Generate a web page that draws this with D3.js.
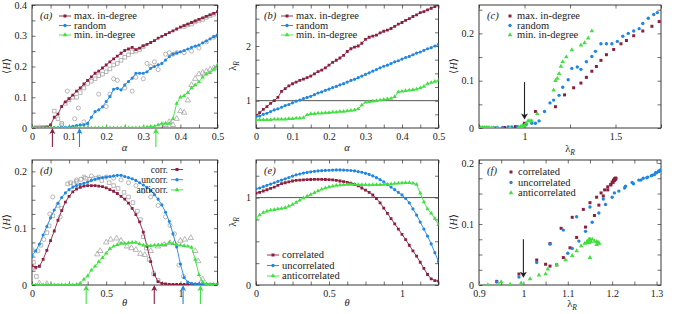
<!DOCTYPE html>
<html>
<head>
<meta charset="utf-8">
<script src="https://cdn.jsdelivr.net/npm/d3@7"></script>
<style>
body { margin: 0; background: #fff; }
svg, svg text { font-family: "Liberation Serif", "DejaVu Serif", "Times New Roman", serif !important; }
svg text { font-size: 10px; fill: #222; }
svg text.leg { font-size: 10.5px; }
svg text.legd { font-size: 9.5px; }
</style>
</head>
<body>
<div id="main-container"></div>
<script>

// ---------------- data ----------------

var alpha = [0, 0.01, 0.02, 0.03, 0.04, 0.05, 0.06, 0.07, 0.08, 0.09,
	0.1, 0.11, 0.12, 0.13, 0.14, 0.15, 0.16, 0.17, 0.18, 0.19,
	0.2, 0.21, 0.22, 0.23, 0.24, 0.25, 0.26, 0.27, 0.28, 0.29,
	0.3, 0.31, 0.32, 0.33, 0.34, 0.35, 0.36, 0.37, 0.38, 0.39,
	0.4, 0.41, 0.42, 0.43, 0.44, 0.45, 0.46, 0.47, 0.48, 0.49, 0.5];

// panel (a) : <H> vs alpha
var hMaxIn = [0, 0, 0, 0.001, 0.003, 0.01, 0.035, 0.045, 0.07, 0.085,
	0.095, 0.107, 0.12, 0.13, 0.143, 0.155, 0.166, 0.178, 0.185, 0.195,
	0.205, 0.215, 0.225, 0.234, 0.243, 0.252, 0.257, 0.262, 0.255, 0.26,
	0.267, 0.272, 0.278, 0.284, 0.292, 0.298, 0.304, 0.31, 0.316, 0.322,
	0.328, 0.333, 0.338, 0.343, 0.348, 0.353, 0.358, 0.363, 0.368, 0.373, 0.378];
var hRandom = [0, 0, 0, 0, 0, 0, 0.001, 0.001, 0.002, 0.002,
	0.003, 0.005, 0.008, 0.01, 0.01, 0.015, 0.035, 0.053, 0.059, 0.069,
	0.086, 0.102, 0.126, 0.129, 0.124, 0.14, 0.151, 0.162, 0.178, 0.178,
	0.178, 0.183, 0.194, 0.2, 0.205, 0.21, 0.221, 0.232, 0.24, 0.244,
	0.248, 0.252, 0.257, 0.262, 0.266, 0.27, 0.277, 0.283, 0.29, 0.297, 0.303];
var hMinIn = [0, 0, 0, 0, 0, 0, 0, 0, 0, 0,
	0, 0, 0, 0, 0, 0, 0, 0, 0, 0,
	0, 0, 0, 0, 0, 0, 0, 0, 0, 0.001,
	0.002, 0.003, 0.005, 0.005, 0.01, 0.015, 0.015, 0.015, 0.03, 0.08,
	0.1, 0.105, 0.115, 0.13, 0.14, 0.15, 0.165, 0.175, 0.18, 0.19, 0.205];

// simulations (grey open symbols) in (a)
var simMaxIn = [[0.01, 0.001], [0.03, 0.002], [0.06, 0.055], [0.07, 0.03], [0.08, 0.015], [0.09, 0.08],
	[0.1, 0.092], [0.11, 0.1], [0.12, 0.1], [0.13, 0.115], [0.14, 0.13], [0.15, 0.145], [0.16, 0.152],
	[0.17, 0.16], [0.18, 0.17], [0.19, 0.175], [0.2, 0.183], [0.21, 0.192], [0.22, 0.205], [0.23, 0.21],
	[0.24, 0.22], [0.25, 0.23], [0.26, 0.238], [0.27, 0.248], [0.28, 0.25], [0.29, 0.255], [0.3, 0.265],
	[0.41, 0.33], [0.42, 0.335], [0.43, 0.338], [0.44, 0.345], [0.45, 0.35], [0.46, 0.353], [0.47, 0.36],
	[0.48, 0.365], [0.49, 0.37]];
var simRandom = [[0.02, 0.003], [0.04, 0.002], [0.08, 0.01], [0.095, 0.12], [0.115, 0.03], [0.125, 0.065],
	[0.14, 0.02], [0.18, 0.11], [0.2, 0.07], [0.21, 0.11], [0.22, 0.16], [0.23, 0.155], [0.25, 0.13],
	[0.27, 0.12], [0.28, 0.165], [0.3, 0.16], [0.31, 0.21], [0.32, 0.2], [0.33, 0.215], [0.34, 0.19],
	[0.36, 0.24], [0.37, 0.245], [0.38, 0.24], [0.39, 0.245], [0.41, 0.245], [0.43, 0.25], [0.45, 0.26],
	[0.47, 0.28], [0.49, 0.295], [0.5, 0.3]];
var simMinIn = [[0.36, 0.01], [0.37, 0.02], [0.38, 0.01], [0.39, 0.03], [0.4, 0.055], [0.41, 0.05],
	[0.42, 0.09], [0.43, 0.14], [0.44, 0.16], [0.45, 0.175], [0.46, 0.18], [0.47, 0.185], [0.48, 0.19],
	[0.49, 0.195], [0.5, 0.2]];
var arrowsA = [0.055, 0.128, 0.334];

// panel (b) : lambda_R vs alpha
var lamMaxIn = [0.73, 0.78, 0.84, 0.89, 0.95, 1.0, 1.06, 1.17, 1.22, 1.27,
	1.31, 1.34, 1.37, 1.395, 1.42, 1.45, 1.49, 1.53, 1.56, 1.6,
	1.65, 1.7, 1.74, 1.78, 1.83, 1.9, 1.95, 1.98, 2.0, 2.05,
	2.12, 2.16, 2.18, 2.2, 2.24, 2.27, 2.29, 2.32, 2.36, 2.4,
	2.43, 2.47, 2.5, 2.54, 2.57, 2.61, 2.63, 2.66, 2.69, 2.72, 2.75];
var lamRandom = [0.7, 0.72, 0.75, 0.77, 0.8, 0.83, 0.85, 0.88, 0.91, 0.93,
	0.96, 0.99, 1.01, 1.04, 1.06, 1.08, 1.11, 1.14, 1.16, 1.19,
	1.21, 1.24, 1.26, 1.29, 1.31, 1.34, 1.37, 1.39, 1.42, 1.45,
	1.48, 1.51, 1.54, 1.57, 1.6, 1.63, 1.65, 1.68, 1.71, 1.73,
	1.76, 1.79, 1.81, 1.84, 1.87, 1.89, 1.92, 1.95, 1.97, 2.0, 2.03];
var lamMinIn = [0.65, 0.65, 0.65, 0.65, 0.65, 0.66, 0.66, 0.66, 0.66, 0.67,
	0.67, 0.68, 0.68, 0.69, 0.74, 0.76, 0.76, 0.77, 0.77, 0.78,
	0.78, 0.79, 0.79, 0.8, 0.8, 0.81, 0.82, 0.83, 0.85, 0.92,
	0.97, 0.98, 0.99, 1.0, 1.01, 1.02, 1.03, 1.04, 1.07, 1.16,
	1.17, 1.18, 1.19, 1.2, 1.21, 1.23, 1.26, 1.31, 1.33, 1.35, 1.37];

var theta = [0, 0.025, 0.05, 0.075, 0.1, 0.125, 0.15, 0.175, 0.2, 0.225,
	0.25, 0.275, 0.3, 0.325, 0.35, 0.375, 0.4, 0.425, 0.45, 0.475,
	0.5, 0.525, 0.55, 0.575, 0.6, 0.625, 0.65, 0.675, 0.7, 0.725,
	0.75, 0.775, 0.8, 0.825, 0.85, 0.875, 0.9, 0.925, 0.95, 0.975,
	1.0, 1.025, 1.05, 1.075, 1.1, 1.125, 1.15, 1.175, 1.2, 1.225, 1.25];

// panel (d) : <H> vs theta
var hCorr = [0.034, 0.031, 0.033, 0.045, 0.061, 0.078, 0.095, 0.114, 0.131, 0.146,
	0.156, 0.164, 0.169, 0.172, 0.174, 0.175, 0.175, 0.175, 0.174, 0.173,
	0.171, 0.168, 0.165, 0.161, 0.156, 0.151, 0.144, 0.135, 0.124, 0.111,
	0.093, 0.068, 0.041, 0.018, 0.006, 0.003, 0.002, 0.001, 0.001, 0.001,
	0.001, 0.001, 0.001, 0.001, 0.001, 0.001, 0.001, 0.001, 0.001, 0.001, 0.001];
var hUncorr = [0.052, 0.06, 0.072, 0.088, 0.103, 0.118, 0.132, 0.144, 0.154, 0.162,
	0.168, 0.172, 0.175, 0.177, 0.179, 0.181, 0.184, 0.186, 0.188, 0.189,
	0.19, 0.191, 0.192, 0.193, 0.193, 0.191, 0.189, 0.187, 0.184, 0.18,
	0.176, 0.172, 0.166, 0.159, 0.151, 0.141, 0.128, 0.112, 0.09, 0.067,
	0.037, 0.013, 0.005, 0.003, 0.002, 0.002, 0.001, 0.001, 0.001, 0.001, 0.001];
var hAnti = [0, 0, 0, 0, 0, 0, 0, 0, 0, 0,
	0, 0, 0.001, 0.003, 0.01, 0.016, 0.026, 0.033, 0.041, 0.048,
	0.056, 0.064, 0.068, 0.071, 0.073, 0.073, 0.074, 0.075, 0.075, 0.072,
	0.07, 0.07, 0.069, 0.07, 0.07, 0.071, 0.071, 0.075, 0.072, 0.071,
	0.07, 0.069, 0.068, 0.066, 0.045, 0.018, 0.005, 0.002, 0.001, 0.001, 0.001];

var simCorr = [[0, 0.062], [0.01, 0.04], [0.03, 0.015], [0.06, 0.07], [0.1, 0.092], [0.115, 0.104],
	[0.14, 0.122], [0.175, 0.14], [0.24, 0.178], [0.26, 0.18], [0.28, 0.178], [0.3, 0.182], [0.33, 0.186],
	[0.36, 0.188], [0.39, 0.186], [0.43, 0.188], [0.47, 0.184], [0.52, 0.18], [0.55, 0.175], [0.58, 0.17],
	[0.62, 0.163], [0.65, 0.155], [0.68, 0.145], [0.71, 0.13], [0.73, 0.115], [0.75, 0.085], [0.77, 0.065],
	[0.79, 0.045], [0.82, 0.02], [0.85, 0.008]];
var simUncorr = [[0.02, 0.03], [0.04, 0.06], [0.08, 0.08], [0.12, 0.125], [0.14, 0.155], [0.19, 0.12],
	[0.2, 0.135], [0.3, 0.185], [0.35, 0.19], [0.4, 0.192], [0.45, 0.19], [0.5, 0.19], [0.55, 0.188],
	[0.6, 0.185], [0.65, 0.18], [0.7, 0.175], [0.75, 0.165], [0.8, 0.155], [0.85, 0.14], [0.9, 0.12],
	[0.93, 0.105], [0.96, 0.09], [0.99, 0.035], [1.02, 0.015]];
var simAnti = [[0.05, 0.003], [0.1, 0.002], [0.44, 0.054], [0.46, 0.06], [0.5, 0.075], [0.53, 0.08],
	[0.57, 0.082], [0.6, 0.078], [0.64, 0.068], [0.67, 0.065], [0.7, 0.062], [0.73, 0.055], [0.76, 0.053],
	[0.8, 0.06], [0.85, 0.068], [0.89, 0.071], [0.93, 0.074], [0.96, 0.074], [1.0, 0.078], [1.03, 0.08],
	[1.07, 0.083], [1.1, 0.06], [1.12, 0.042], [1.15, 0.01]];
var arrowsD = [0.365, 0.824, 1.018, 1.135];

// panel (e) : lambda_R vs theta
var lamCorr = [1.05, 1.06, 1.075, 1.09, 1.105, 1.12, 1.14, 1.16, 1.17, 1.18,
	1.19, 1.197, 1.2, 1.203, 1.205, 1.207, 1.208, 1.208, 1.208, 1.207,
	1.205, 1.202, 1.197, 1.19, 1.183, 1.175, 1.165, 1.15, 1.135, 1.11,
	1.085, 1.06, 1.03, 0.99, 0.94, 0.88, 0.82, 0.76, 0.7, 0.64,
	0.58, 0.52, 0.455, 0.39, 0.33, 0.26, 0.19, 0.12, 0.07, 0.05, 0.045];
var lamUncorr = [1.1, 1.11, 1.125, 1.14, 1.155, 1.17, 1.185, 1.2, 1.215, 1.23,
	1.245, 1.26, 1.27, 1.28, 1.288, 1.295, 1.3, 1.305, 1.308, 1.311,
	1.313, 1.315, 1.316, 1.316, 1.315, 1.313, 1.31, 1.305, 1.298, 1.29,
	1.278, 1.265, 1.248, 1.228, 1.205, 1.18, 1.15, 1.12, 1.09, 1.06,
	1.03, 0.99, 0.94, 0.87, 0.8, 0.72, 0.64, 0.56, 0.47, 0.37, 0.27];
var lamAnti = [0.766, 0.8, 0.83, 0.845, 0.855, 0.86, 0.87, 0.875, 0.885, 0.9,
	0.92, 0.945, 0.97, 0.995, 1.015, 1.035, 1.055, 1.075, 1.095, 1.11,
	1.12, 1.13, 1.138, 1.143, 1.147, 1.15, 1.15, 1.15, 1.148, 1.147,
	1.146, 1.145, 1.146, 1.147, 1.148, 1.15, 1.152, 1.155, 1.16, 1.165,
	1.168, 1.17, 1.17, 1.165, 1.15, 1.05, 0.95, 0.87, 0.82, 0.76, 0.69];

var labelsAlpha = ["max. in-degree", "random", "min. in-degree"];
var labelsShort = ["corr.", "uncorr.", "anticorr."];
var labelsLong = ["correlated", "uncorrelated", "anticorrelated"];

var colors = ["#8c1f3e", "#1f86e3", "#3fe03f"];
var symbols = [d3.symbolSquare, d3.symbolCircle, d3.symbolTriangle];


var svg = d3.select("#main-container").append("svg").attr("width", 675).attr("height", 314);


//*******************************************************************************************
//		helpers
//*******************************************************************************************

function makePanel(cfg) {
	var x = d3.scaleLinear().domain(cfg.xDomain).range([cfg.left, cfg.right]);
	var y = d3.scaleLinear().domain(cfg.yDomain).range([cfg.bottom, cfg.top]);
	var g = svg.append("g");
	var fmtX = function(d) { return cfg.xLabels.indexOf(d) >= 0 ? String(d) : ""; };
	var fmtY = function(d) { return cfg.yLabels.indexOf(d) >= 0 ? String(d) : ""; };

	g.append("g").attr("transform", "translate(0," + cfg.bottom + ")")
		.call(d3.axisBottom(x).tickValues(cfg.xTicks).tickFormat(fmtX).tickSizeInner(-3.5).tickSizeOuter(0).tickPadding(4.5));
	g.append("g").attr("transform", "translate(0," + cfg.top + ")")
		.call(d3.axisTop(x).tickValues(cfg.xTicks).tickFormat("").tickSizeInner(-3.5).tickSizeOuter(0));
	g.append("g").attr("transform", "translate(" + cfg.left + ",0)")
		.call(d3.axisLeft(y).tickValues(cfg.yTicks).tickFormat(fmtY).tickSizeInner(-3.5).tickSizeOuter(0).tickPadding(5));
	g.append("g").attr("transform", "translate(" + cfg.right + ",0)")
		.call(d3.axisRight(y).tickValues(cfg.yTicks).tickFormat("").tickSizeInner(-3.5).tickSizeOuter(0));

	g.selectAll(".domain").remove();
	g.selectAll("g").attr("font-family", null).attr("font-size", null);
	g.selectAll(".tick line").attr("stroke", "#333").attr("stroke-width", 0.7);
	g.selectAll(".tick text").attr("fill", "#222");

	g.append("rect")
		.attr("x", cfg.left).attr("y", cfg.top)
		.attr("width", cfg.right - cfg.left).attr("height", cfg.bottom - cfg.top)
		.attr("fill", "none").attr("stroke", "#222").attr("stroke-width", 0.9);

	var clipId = "clip" + cfg.name;
	svg.append("clipPath").attr("id", clipId).append("rect")
		.attr("x", cfg.left).attr("y", cfg.top)
		.attr("width", cfg.right - cfg.left).attr("height", cfg.bottom - cfg.top);
	var plot = g.append("g").attr("clip-path", "url(#" + clipId + ")");

	// panel tag
	g.append("text").attr("class", "leg").attr("x", cfg.left + 8).attr("y", cfg.top + 14)
		.style("font-style", "italic").text("(" + cfg.name + ")");

	return { g: g, plot: plot, x: x, y: y, cfg: cfg };
}

function yTitleH(g, xPos, yPos) {
	var t = g.append("text").attr("class", "leg").attr("transform", "translate(" + xPos + "," + yPos + ") rotate(-90)")
		.attr("text-anchor", "middle");
	t.append("tspan").text("\u27E8");
	t.append("tspan").style("font-style", "italic").text("H");
	t.append("tspan").text("\u27E9");
}

function lambdaText(t) {
	t.append("tspan").text("\u03BB");
	t.append("tspan").style("font-style", "italic").style("font-size", "7.5px").attr("dy", 2.5).text("R");
}

function xTitle(g, xPos, yPos, what) {
	var t = g.append("text").attr("class", "leg").attr("x", xPos).attr("y", yPos).attr("text-anchor", "middle");
	if (what == "lambda") lambdaText(t);
	else t.style("font-style", "italic").text(what);
}

function yTitleLambda(g, xPos, yPos) {
	var t = g.append("text").attr("class", "leg").attr("transform", "translate(" + xPos + "," + yPos + ") rotate(-90)")
		.attr("text-anchor", "middle");
	lambdaText(t);
}

function drawSeries(p, pts, color, sym, withLine, size) {
	if (withLine) {
		p.plot.append("path").datum(pts)
			.attr("fill", "none").attr("stroke", color).attr("stroke-width", 0.9)
			.attr("d", d3.line().x(function(d) { return p.x(d[0]); }).y(function(d) { return p.y(d[1]); }));
	}
	p.plot.selectAll(null).data(pts).enter().append("path")
		.attr("transform", function(d) { return "translate(" + p.x(d[0]) + "," + p.y(d[1]) + ")"; })
		.attr("d", d3.symbol().type(sym).size(size))
		.attr("fill", color);
}

function drawSim(p, pts, sym) {
	p.plot.selectAll(null).data(pts).enter().append("path")
		.attr("transform", function(d) { return "translate(" + p.x(d[0]) + "," + p.y(d[1]) + ")"; })
		.attr("d", d3.symbol().type(sym).size(13))
		.attr("fill", "none").attr("stroke", "#9a9a9a").attr("stroke-width", 0.7);
}

function zip(xs, ys) {
	return xs.map(function(v, i) { return [v, ys[i]]; });
}

function inside(p) {
	var xd = p.x.domain(), yd = p.y.domain();
	return function(d) { return d[0] >= xd[0] && d[0] <= xd[1] && d[1] >= yd[0] && d[1] <= yd[1]; };
}

function upArrow(g, xPos, yTip, yTail, color) {
	g.append("line").attr("x1", xPos).attr("x2", xPos).attr("y1", yTip + 3).attr("y2", yTail)
		.attr("stroke", color).attr("stroke-width", 1.1);
	g.append("path").attr("d", "M" + xPos + "," + yTip + " l-3,6 l3,-1.5 l3,1.5 z").attr("fill", color);
}

function downArrow(g, xPos, yTail, yTip) {
	g.append("line").attr("x1", xPos).attr("x2", xPos).attr("y1", yTail).attr("y2", yTip - 3)
		.attr("stroke", "#222").attr("stroke-width", 1.1);
	g.append("path").attr("d", "M" + xPos + "," + yTip + " l-3.5,-6 l3.5,1.5 l3.5,-1.5 z").attr("fill", "#222");
}

function legendRow(g, xSample, y, color, sym, label, withLine, anchorEnd) {
	if (withLine) {
		g.append("line").attr("x1", xSample - 6).attr("x2", xSample + 6).attr("y1", y).attr("y2", y)
			.attr("stroke", color).attr("stroke-width", 0.9);
	}
	g.append("path").attr("transform", "translate(" + xSample + "," + y + ")")
		.attr("d", d3.symbol().type(sym).size(9)).attr("fill", color);
	var t = g.append("text").attr("class", anchorEnd ? "legd" : "leg").attr("y", y + 3.3).text(label);
	if (anchorEnd) t.attr("x", xSample - 9).attr("text-anchor", "end");
	else t.attr("x", xSample + (withLine ? 9 : 7));
}


//*******************************************************************************************
//		panels
//*******************************************************************************************

var tick005 = [0, 0.05, 0.1, 0.15, 0.2, 0.25, 0.3, 0.35, 0.4, 0.45, 0.5];
var tickTheta = [0, 0.125, 0.25, 0.375, 0.5, 0.625, 0.75, 0.875, 1, 1.125, 1.25];

// (a)
var pa = makePanel({ name: "a", left: 32, right: 217.5, top: 5, bottom: 128,
	xDomain: [0, 0.5], yDomain: [0, 0.4],
	xTicks: tick005, xLabels: [0, 0.1, 0.2, 0.3, 0.4, 0.5],
	yTicks: [0, 0.05, 0.1, 0.15, 0.2, 0.25, 0.3, 0.35, 0.4], yLabels: [0, 0.1, 0.2, 0.3, 0.4] });
drawSim(pa, simMaxIn, d3.symbolSquare);
drawSim(pa, simRandom, d3.symbolCircle);
drawSim(pa, simMinIn, d3.symbolTriangle);
[hMaxIn, hRandom, hMinIn].forEach(function(s, i) {
	drawSeries(pa, zip(alpha, s), colors[i], symbols[i], true, 8);
});
arrowsA.forEach(function(a, i) { upArrow(pa.g, pa.x(a), 128, 147, colors[i]); });
labelsAlpha.forEach(function(l, i) { legendRow(pa.g, 65, 16 + i * 9.5, colors[i], symbols[i], l, true); });
yTitleH(pa.g, 10, 66);
xTitle(pa.g, 124.5, 151, "\u03B1");

// (b)
var pb = makePanel({ name: "b", left: 256, right: 438.5, top: 5, bottom: 128,
	xDomain: [0, 0.5], yDomain: [0.5, 2.75],
	xTicks: tick005, xLabels: [0, 0.1, 0.2, 0.3, 0.4, 0.5],
	yTicks: [0.5, 0.75, 1, 1.25, 1.5, 1.75, 2, 2.25, 2.5, 2.75], yLabels: [1, 2] });
pb.plot.append("line").attr("x1", pb.x(0)).attr("x2", pb.x(0.5)).attr("y1", pb.y(1)).attr("y2", pb.y(1))
	.attr("stroke", "#555").attr("stroke-width", 1);
[lamMaxIn, lamRandom, lamMinIn].forEach(function(s, i) {
	drawSeries(pb, zip(alpha, s), colors[i], symbols[i], true, 8);
});
labelsAlpha.forEach(function(l, i) { legendRow(pb.g, 287, 16 + i * 9.5, colors[i], symbols[i], l, true); });
yTitleLambda(pb.g, 236, 66);
xTitle(pb.g, 347, 151, "\u03B1");

// (c)
var pc = makePanel({ name: "c", left: 479, right: 661, top: 5, bottom: 128,
	xDomain: [0.75, 1.75], yDomain: [0, 0.26],
	xTicks: [0.75, 1, 1.25, 1.5, 1.75], xLabels: [1, 1.5],
	yTicks: [0, 0.05, 0.1, 0.15, 0.2, 0.25], yLabels: [0, 0.1, 0.2] });
[[lamMaxIn, hMaxIn], [lamRandom, hRandom], [lamMinIn, hMinIn]].forEach(function(s, i) {
	drawSeries(pc, zip(s[0], s[1]).filter(inside(pc)), colors[i], symbols[i], false, 9);
});
downArrow(pc.g, pc.x(1), pc.y(0.097), pc.y(0.018));
labelsAlpha.forEach(function(l, i) { legendRow(pc.g, 510, 16 + i * 9.5, colors[i], symbols[i], l, false); });
yTitleH(pc.g, 457, 66);
xTitle(pc.g, 570, 152, "lambda");

// (d)
var pd = makePanel({ name: "d", left: 32, right: 217.5, top: 160, bottom: 285,
	xDomain: [0, 1.25], yDomain: [0, 0.22],
	xTicks: tickTheta, xLabels: [0, 0.5, 1],
	yTicks: [0, 0.025, 0.05, 0.075, 0.1, 0.125, 0.15, 0.175, 0.2], yLabels: [0, 0.1, 0.2] });
drawSim(pd, simCorr, d3.symbolSquare);
drawSim(pd, simUncorr, d3.symbolCircle);
drawSim(pd, simAnti, d3.symbolTriangle);
[hCorr, hUncorr, hAnti].forEach(function(s, i) {
	drawSeries(pd, zip(theta, s), colors[i], symbols[i], true, 8);
});
var arrowColD = [colors[2], colors[0], colors[1], colors[2]];
arrowsD.forEach(function(a, i) { upArrow(pd.g, pd.x(a), 285, 304, arrowColD[i]); });
labelsShort.forEach(function(l, i) { legendRow(pd.g, 177, 169.5 + i * 10.2, colors[i], symbols[i], l, true, true); });
yTitleH(pd.g, 10, 222);
xTitle(pd.g, 124.5, 306, "\u03B8");

// (e)
var pe = makePanel({ name: "e", left: 256, right: 438.5, top: 160, bottom: 285,
	xDomain: [0, 1.25], yDomain: [0, 1.43],
	xTicks: tickTheta, xLabels: [0, 0.5, 1],
	yTicks: [0, 0.25, 0.5, 0.75, 1, 1.25], yLabels: [0, 1] });
pe.plot.append("line").attr("x1", pe.x(0)).attr("x2", pe.x(1.25)).attr("y1", pe.y(1)).attr("y2", pe.y(1))
	.attr("stroke", "#555").attr("stroke-width", 1);
[lamCorr, lamUncorr, lamAnti].forEach(function(s, i) {
	drawSeries(pe, zip(theta, s), colors[i], symbols[i], true, 8);
});
labelsLong.forEach(function(l, i) { legendRow(pe.g, 273, 255 + i * 10.5, colors[i], symbols[i], l, true); });
yTitleLambda(pe.g, 236, 222);
xTitle(pe.g, 347, 306, "\u03B8");

// (f)
var pf = makePanel({ name: "f", left: 479, right: 661, top: 160, bottom: 285,
	xDomain: [0.9, 1.31], yDomain: [0, 0.205],
	xTicks: [0.9, 0.95, 1, 1.05, 1.1, 1.15, 1.2, 1.25, 1.3], xLabels: [0.9, 1, 1.1, 1.2, 1.3],
	yTicks: [0, 0.025, 0.05, 0.075, 0.1, 0.125, 0.15, 0.175, 0.2], yLabels: [0, 0.1, 0.2] });
[[lamCorr, hCorr], [lamUncorr, hUncorr], [lamAnti, hAnti]].forEach(function(s, i) {
	drawSeries(pf, zip(s[0], s[1]).filter(inside(pf)), colors[i], symbols[i], false, 9);
});
downArrow(pf.g, pf.x(1), pf.y(0.075), pf.y(0.012));
labelsLong.forEach(function(l, i) { legendRow(pf.g, 511, 172 + i * 10.5, colors[i], symbols[i], l, false); });
yTitleH(pf.g, 457, 222);
xTitle(pf.g, 572, 307, "lambda");

</script>
</body>
</html>
